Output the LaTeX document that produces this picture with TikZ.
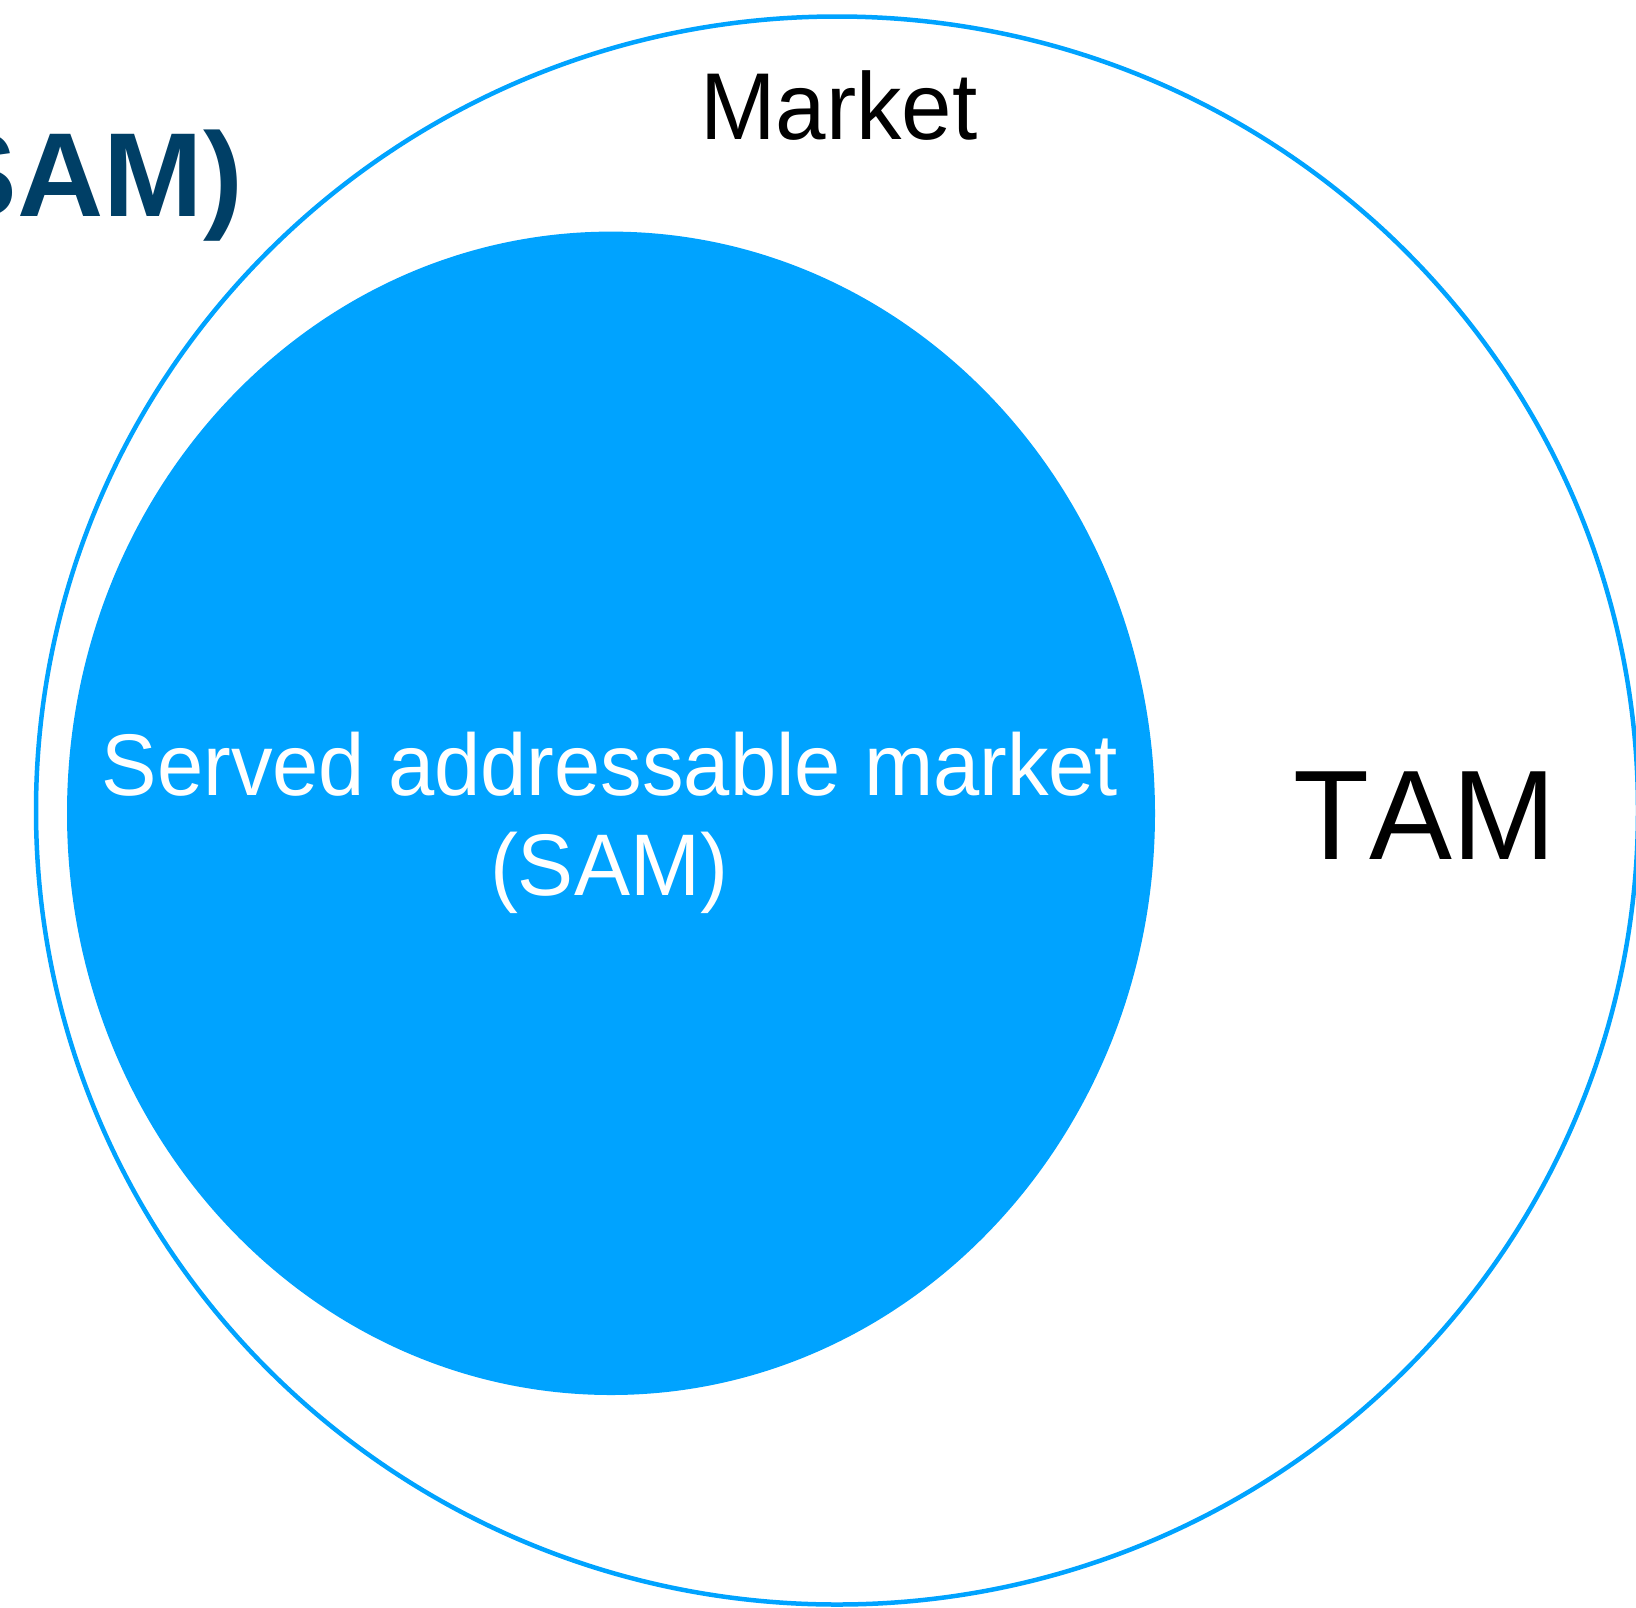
\documentclass[tikz,border=0pt]{standalone}
\usepackage{fontspec}
\setmainfont[Kerning=Off]{Liberation Sans}
\definecolor{samblue}{HTML}{00A3FF}
\definecolor{navy}{HTML}{003F66}
\tikzset{
  ring/.style={draw=samblue, line width=4.5pt},
  disc/.style={fill=samblue, draw=none},
  label/.style={inner sep=0pt, outer sep=0pt}
}
\begin{document}
\begin{tikzpicture}[x=1pt, y=-1pt]
  \useasboundingbox (0,0) rectangle (1636,1607);
  \clip (0,0) rectangle (1636,1607);
  \fill[white] (0,0) rectangle (1636,1607);
  % total market and the served part inside it
  \draw[ring] (837,810.5) ellipse [x radius=801, y radius=794];
  \fill[disc] (611,813.3) ellipse [x radius=544, y radius=581.7];
  % labels
  \node[label, anchor=base] (market) at (839,139) {\fontsize{95}{100}\selectfont\scalebox{0.955}[1]{Market}};
  \node[label, anchor=base] (tam) at (1425,859) {\fontsize{127.5}{130}\selectfont\scalebox{0.975}[1]{TAM}};
  \node[label, anchor=base, text=white] (samA) at (610,795) {\fontsize{87.5}{100}\selectfont\scalebox{0.95}[1]{Served addressable market}};
  \node[label, anchor=base, text=white] (samB) at (609,895) {\fontsize{87.5}{100}\selectfont\scalebox{0.96}[1]{(SAM)}};
  \node[label, anchor=base east, text=navy] (title) at (243,216) {\fontsize{119.5}{125}\selectfont\bfseries SAM)};
\end{tikzpicture}
\end{document}
